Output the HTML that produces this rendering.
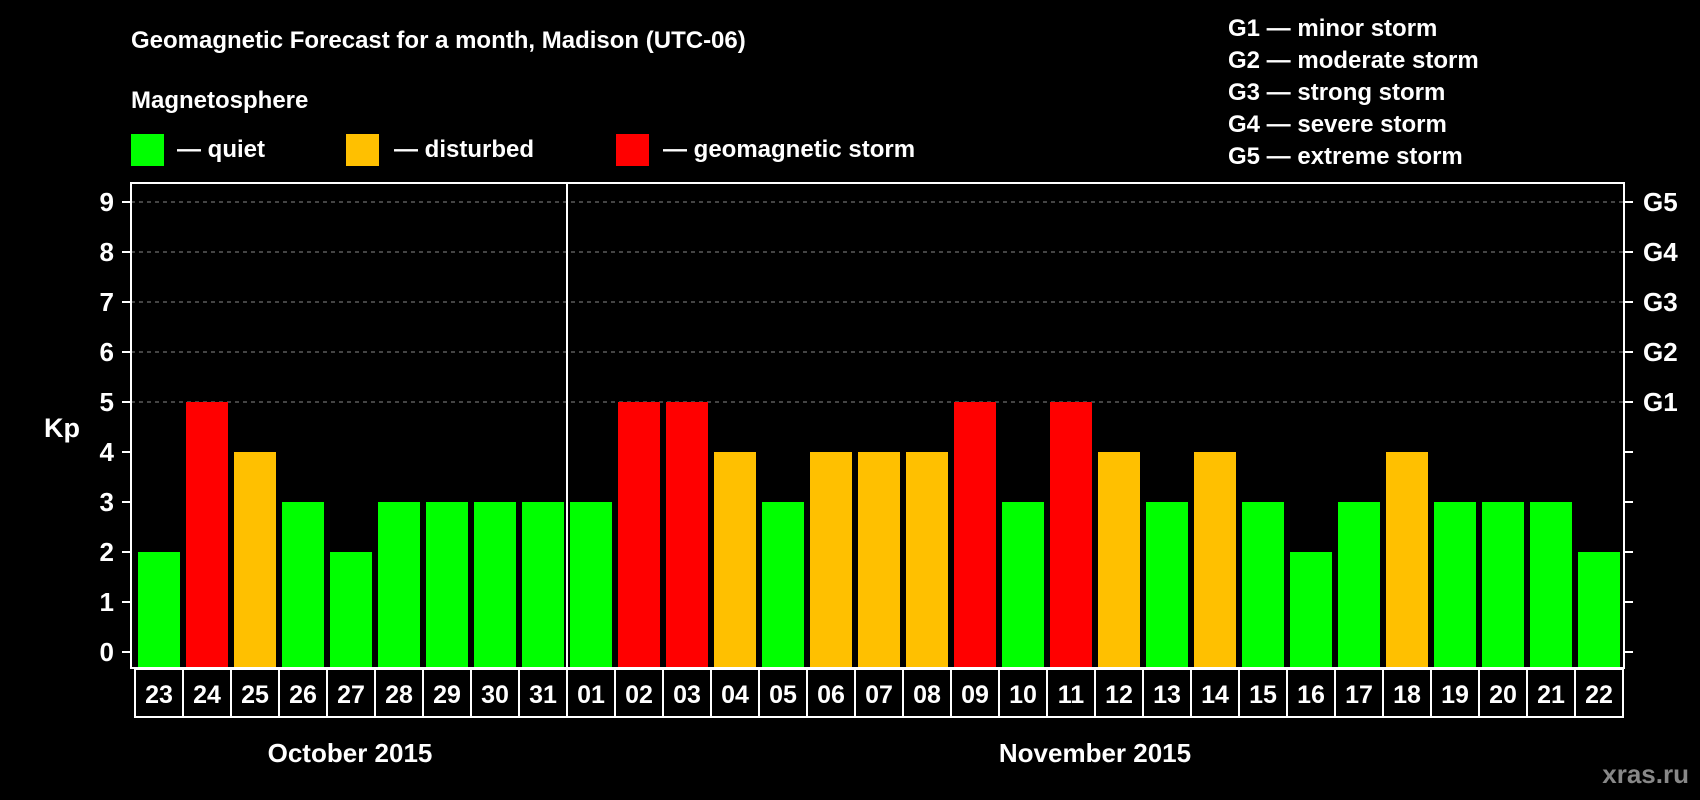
<!DOCTYPE html>
<html><head><meta charset="utf-8"><style>
body{margin:0;background:#000;}
svg{display:block;font-family:"Liberation Sans",Arial,sans-serif;font-weight:bold;}
</style></head><body>
<svg id="c" width="1700" height="800" viewBox="0 0 1700 800">
<rect width="1700" height="800" fill="#000"/>
<text x="131" y="48" fill="#fff" font-size="24">Geomagnetic Forecast for a month, Madison (UTC-06)</text>
<text x="131" y="108" fill="#fff" font-size="24">Magnetosphere</text>
<g><rect x="131" y="134" width="33" height="32" fill="#00ff00"/><text x="177" y="157" fill="#fff" font-size="24">— quiet</text></g>
<g><rect x="346" y="134" width="33" height="32" fill="#ffc000"/><text x="394" y="157" fill="#fff" font-size="24">— disturbed</text></g>
<g><rect x="616" y="134" width="33" height="32" fill="#ff0000"/><text x="663" y="157" fill="#fff" font-size="24">— geomagnetic storm</text></g>
<g fill="#fff" font-size="24">
<text x="1228" y="36">G1 — minor storm</text>
<text x="1228" y="68">G2 — moderate storm</text>
<text x="1228" y="100">G3 — strong storm</text>
<text x="1228" y="132">G4 — severe storm</text>
<text x="1228" y="164">G5 — extreme storm</text>
</g>
<text x="62" y="437" fill="#fff" font-size="27" text-anchor="middle">Kp</text>
<g id="plot"></g>
<text x="350" y="762" fill="#fff" font-size="26" text-anchor="middle">October 2015</text>
<text x="1095" y="762" fill="#fff" font-size="26" text-anchor="middle">November 2015</text>
<text x="1689" y="783" fill="#888" font-size="26" text-anchor="end">xras.ru</text>
</svg>
<script>
const days=["23","24","25","26","27","28","29","30","31","01","02","03","04","05","06","07","08","09","10","11","12","13","14","15","16","17","18","19","20","21","22"];
const kp=[2,5,4,3,2,3,3,3,3,3,5,5,4,3,4,4,4,5,3,5,4,3,4,3,2,3,4,3,3,3,2];
const yTicks=[0,1,2,3,4,5,6,7,8,9];
const gLabels=["G1","G2","G3","G4","G5"];
const gLevels=[5,6,7,8,9];
const NS="http://www.w3.org/2000/svg";
const g=document.getElementById('plot');
const L=131,R=1624,T=183,B=668,x0=135,pitch=48;
const y=v=>652-v*50;
const xs=i=>x0+i*pitch;
function mk(t,a,p){const e=document.createElementNS(NS,t);for(const k in a)e.setAttribute(k,a[k]);(p||g).appendChild(e);return e;}
gLevels.forEach((v,i)=>{
 const l=mk('line',{x1:L,x2:R,y1:y(v),y2:y(v),stroke:'#888','stroke-width':1,'stroke-dasharray':'4,4'});
 
 
 const t=mk('text',{x:1643,y:y(v)+9,fill:'#fff','font-size':26});t.textContent=gLabels[i];
 
 
});
yTicks.forEach(v=>{
 mk('line',{x1:122,x2:L,y1:y(v),y2:y(v),stroke:'#fff','stroke-width':2});
 mk('line',{x1:R,x2:1633,y1:y(v),y2:y(v),stroke:'#fff','stroke-width':2});
 const t=mk('text',{x:114,y:y(v)+9,fill:'#fff','font-size':26,'text-anchor':'end'});t.textContent=v;
 
 
});
kp.forEach((v,i)=>{
 const c=v>=5?'#ff0000':v>=4?'#ffc000':'#00ff00';
 const r=mk('rect',{x:xs(i)+3,y:y(v),width:42,height:B-y(v),fill:c});
 
 
 const b=mk('rect',{x:xs(i),y:669,width:pitch,height:48,fill:'none',stroke:'#fff','stroke-width':2});
 
 
 const t=mk('text',{x:xs(i)+pitch/2,y:703,fill:'#fff','font-size':25,'text-anchor':'middle'});t.textContent=days[i];
 
 
});
const f=mk('rect',{x:L,y:T,width:R-L,height:B-T,fill:'none',stroke:'#fff','stroke-width':2});


const sep=mk('line',{x1:xs(9),x2:xs(9),y1:T,y2:717,stroke:'#fff','stroke-width':2});


</script>
</body></html>
